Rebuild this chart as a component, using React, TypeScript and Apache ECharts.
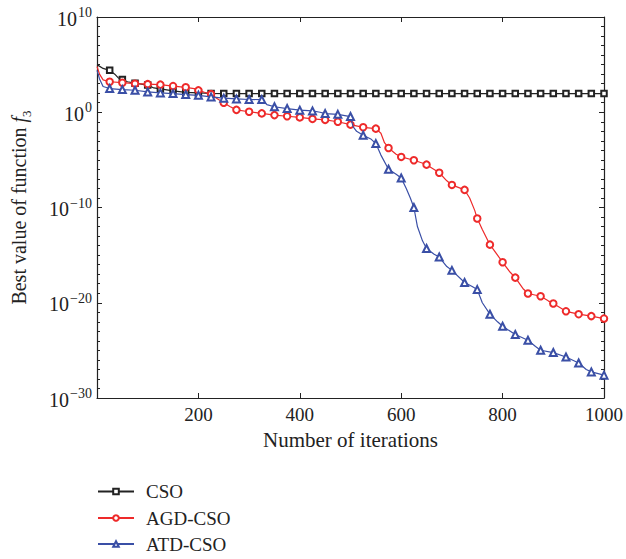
import React, { useEffect, useRef } from "react";
import * as echarts from "echarts";

// iterations and log10(best value) for each algorithm
const csoIter = [0, 12, 25, 35, 42, 50, 60, 75, 100, 112, 125, 150, 175, 200, 225, 250, 275, 300, 325, 350, 375, 400, 425, 450, 475, 500, 525, 550, 575, 600, 625, 650, 675, 700, 725, 750, 775, 800, 825, 850, 875, 900, 925, 950, 975, 1000];
const csoLog = [5.0, 4.6, 4.4, 4.0, 3.6, 3.45, 3.2, 3.05, 2.85, 2.55, 2.45, 2.25, 2.08, 2.03, 1.98, 1.96, 1.96, 1.96, 1.96, 1.96, 1.96, 1.96, 1.96, 1.96, 1.96, 1.96, 1.96, 1.96, 1.96, 1.96, 1.96, 1.96, 1.96, 1.96, 1.96, 1.96, 1.96, 1.96, 1.96, 1.96, 1.96, 1.96, 1.96, 1.96, 1.96, 1.96];

const agdIter = [0, 5, 12, 25, 50, 75, 100, 125, 150, 175, 195, 200, 212, 225, 235, 250, 262, 275, 300, 325, 350, 375, 400, 425, 450, 475, 500, 525, 550, 560, 567, 575, 590, 600, 625, 640, 650, 665, 675, 690, 700, 725, 735, 745, 750, 760, 775, 790, 800, 815, 825, 840, 850, 875, 890, 900, 925, 950, 975, 1000];
const agdLog = [4.8, 4.0, 3.4, 3.2, 3.1, 3.0, 2.95, 2.9, 2.75, 2.62, 2.45, 2.3, 2.1, 1.9, 1.5, 1.0, 0.6, 0.25, 0.05, -0.12, -0.3, -0.42, -0.54, -0.7, -0.8, -1.0, -1.3, -1.58, -1.72, -2.2, -3.2, -3.75, -4.4, -4.69, -5.04, -5.3, -5.5, -6.0, -6.35, -7.2, -7.63, -8.15, -9.0, -10.3, -11.15, -12.3, -13.9, -15.0, -15.75, -16.8, -17.36, -18.5, -19.03, -19.32, -19.8, -20.08, -20.9, -21.2, -21.4, -21.66];

const atdIter = [0, 5, 12, 25, 50, 75, 100, 125, 150, 175, 200, 225, 250, 275, 300, 325, 335, 350, 375, 400, 425, 440, 450, 475, 500, 505, 512, 525, 540, 550, 560, 575, 590, 600, 610, 618, 625, 632, 642, 650, 665, 675, 690, 700, 725, 740, 750, 760, 775, 790, 800, 825, 850, 865, 875, 900, 925, 950, 965, 975, 1000];
const atdLog = [4.4, 3.5, 2.7, 2.49, 2.38, 2.31, 2.13, 2.03, 1.96, 1.86, 1.78, 1.61, 1.48, 1.4, 1.34, 1.33, 0.8, 0.58, 0.39, 0.22, 0.14, 0.0, -0.14, -0.22, -0.45, -1.5, -2.0, -2.41, -2.8, -3.29, -4.5, -5.98, -6.5, -6.9, -8.0, -9.0, -10.0, -12.0, -13.5, -14.3, -14.9, -15.2, -16.2, -16.6, -17.88, -18.3, -18.62, -20.0, -21.2, -22.0, -22.47, -23.34, -23.94, -24.6, -24.99, -25.23, -25.69, -26.32, -27.0, -27.26, -27.6];

const seriesNames = ["CSO", "AGD-CSO", "ATD-CSO"];

const FONT = "Liberation Serif";

function build(iters: number[], vals: number[]) {
  return iters.map((x, i) =>
    x > 0 && x % 25 === 0
      ? { value: [x, vals[i]] }
      : { value: [x, vals[i]], symbol: "none" }
  );
}

export default function App() {
  const ref = useRef<HTMLDivElement>(null);
  useEffect(() => {
    if (!ref.current) return;
    const chart = echarts.init(ref.current, null, { renderer: "svg" });
    const axisLine = { show: true, onZero: false, lineStyle: { color: "#222", width: 1.2 } };
    const legendTops = [481.5, 508, 534];
    chart.setOption({
      animation: false,
      backgroundColor: "#fff",
      grid: { left: 97, right: 21, top: 17, bottom: 161 },
      legend: seriesNames.map((n, k) => ({
        orient: "horizontal",
        left: 97,
        top: legendTops[k],
        padding: 0,
        itemWidth: 36,
        itemHeight: 7,
        data: [n],
        textStyle: { fontFamily: FONT, fontSize: 19, lineHeight: 20, color: "#222", padding: [0, 0, 0, 7] },
      })),
      xAxis: [
        {
          type: "value",
          min: 0,
          max: 1000,
          interval: 200,
          position: "bottom",
          name: "Number of iterations",
          nameLocation: "middle",
          nameGap: 31,
          nameTextStyle: { fontFamily: FONT, fontSize: 21, color: "#222" },
          axisLine,
          axisTick: { show: true, inside: true, length: 5, lineStyle: { color: "#222" } },
          axisLabel: {
            fontFamily: FONT,
            fontSize: 19,
            color: "#222",
            margin: 7,
            formatter: (v: number) => (v === 0 ? "" : String(v)),
          },
          splitLine: { show: false },
        },
        {
          type: "value",
          min: 0,
          max: 1000,
          interval: 200,
          position: "top",
          axisLine,
          axisTick: { show: true, inside: true, length: 5, lineStyle: { color: "#222" } },
          axisLabel: { show: false },
          splitLine: { show: false },
        },
      ],
      yAxis: [
        {
          type: "value",
          min: -30,
          max: 10,
          interval: 10,
          position: "left",
          name: "{t|Best value of function }{i|f}{sub|3}",
          nameLocation: "middle",
          nameGap: 64,
          nameTextStyle: {
            fontFamily: FONT,
            fontSize: 20,
            color: "#222",
            rich: {
              t: { fontFamily: FONT, fontSize: 20, color: "#222", verticalAlign: "top", padding: [0, 0, 4, 0] },
              i: { fontFamily: FONT, fontSize: 20, fontStyle: "italic", color: "#222", verticalAlign: "top", padding: [0, 0, 4, 0] },
              sub: { fontFamily: FONT, fontSize: 13, color: "#222", verticalAlign: "bottom" },
            },
          },
          axisLine,
          axisTick: { show: true, inside: true, length: 5, lineStyle: { color: "#222" } },
          minorTick: { show: true, splitNumber: 10, length: 3, lineStyle: { color: "#222" } },
          axisLabel: {
            margin: 5,
            formatter: (v: number) => `{b|10}{s|${v < 0 ? "\u2212" + Math.abs(v) : v}}`,
            rich: {
              b: { fontFamily: FONT, fontSize: 20, color: "#222", verticalAlign: "bottom" },
              s: { fontFamily: FONT, fontSize: 14, color: "#222", verticalAlign: "bottom", padding: [0, 0, 9, 1] },
            },
          },
          splitLine: { show: false },
          minorSplitLine: { show: false },
        },
        {
          type: "value",
          min: -30,
          max: 10,
          interval: 10,
          position: "right",
          axisLine,
          axisTick: { show: true, inside: true, length: 5, lineStyle: { color: "#222" } },
          minorTick: { show: true, splitNumber: 10, length: 3, lineStyle: { color: "#222" } },
          axisLabel: { show: false },
          splitLine: { show: false },
        },
      ],
      series: [
        {
          name: "CSO",
          type: "line",
          data: build(csoIter, csoLog),
          symbol: "emptyRect",
          symbolSize: 5.5,
          color: "#222",
          lineStyle: { color: "#222", width: 1.2 },
          itemStyle: { color: "#222", borderWidth: 1.2 },
          z: 3,
        },
        {
          name: "AGD-CSO",
          type: "line",
          data: build(agdIter, agdLog),
          symbol: "emptyCircle",
          symbolSize: 6.5,
          color: "#ee2a2a",
          lineStyle: { color: "#ee2a2a", width: 1.2 },
          itemStyle: { color: "#ee2a2a", borderWidth: 1.2 },
          z: 4,
        },
        {
          name: "ATD-CSO",
          type: "line",
          data: build(atdIter, atdLog),
          symbol: "emptyTriangle",
          symbolSize: 7,
          color: "#3a4fa6",
          lineStyle: { color: "#3a4fa6", width: 1.2 },
          itemStyle: { color: "#3a4fa6", borderWidth: 1.2 },
          z: 5,
        },
      ],
    });
    return () => chart.dispose();
  }, []);
  return (
    <div
      ref={ref}
      style={{ position: "absolute", left: 0, top: 0, width: 626, height: 559 }}
    />
  );
}
